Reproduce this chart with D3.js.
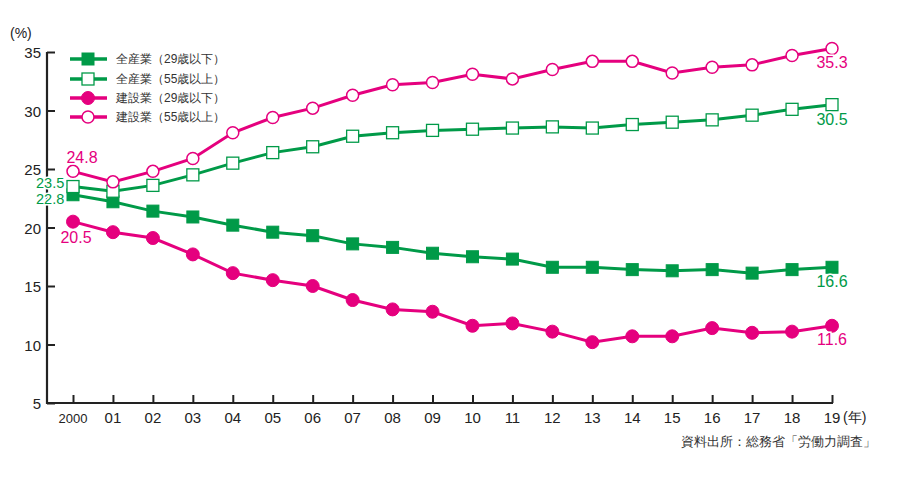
<!DOCTYPE html>
<html><head><meta charset="utf-8">
<script src="https://cdn.jsdelivr.net/npm/d3@7"></script>
<style>body{margin:0;background:#fff;} text{font-family:"Liberation Sans",Arial,sans-serif;}</style>
</head><body><svg id="c" width="900" height="480"></svg>
<script>
const years = ["2000","01","02","03","04","05","06","07","08","09","10","11","12","13","14","15","16","17","18","19"];
const yTicks = [5,10,15,20,25,30,35];
const allUnder29 = [22.8,22.2,21.4,20.9,20.2,19.6,19.3,18.6,18.3,17.8,17.5,17.3,16.6,16.6,16.4,16.3,16.4,16.1,16.4,16.6];
const allOver55  = [23.5,23.1,23.6,24.5,25.5,26.4,26.9,27.8,28.1,28.3,28.4,28.5,28.6,28.5,28.8,29.0,29.2,29.6,30.1,30.5];
const conUnder29 = [20.5,19.6,19.1,17.7,16.1,15.5,15.0,13.8,13.0,12.8,11.6,11.8,11.1,10.2,10.7,10.7,11.4,11.0,11.1,11.6];
const conOver55  = [24.8,23.9,24.8,25.9,28.1,29.4,30.2,31.3,32.2,32.4,33.1,32.7,33.5,34.2,34.2,33.2,33.7,33.9,34.7,35.3];
const seriesNames = ["全産業（29歳以下）","全産業（55歳以上）","建設業（29歳以下）","建設業（55歳以上）"];

const GREEN = "#009a48", PINK = "#e5007e";
const series = [
  {name: seriesNames[0], values: allUnder29, color: GREEN, shape: "square", filled: true},
  {name: seriesNames[1], values: allOver55,  color: GREEN, shape: "square", filled: false},
  {name: seriesNames[2], values: conUnder29, color: PINK,  shape: "circle", filled: true},
  {name: seriesNames[3], values: conOver55,  color: PINK,  shape: "circle", filled: false}
];

const svg = d3.select("#c");
const x = d3.scalePoint().domain(years).range([73, 832]);
const y = d3.scaleLinear().domain([5, 35]).range([403, 52]);

// axes
const yAxis = svg.append("g").attr("transform","translate(47,0)")
  .call(d3.axisRight(y).tickValues(yTicks).tickSize(8).tickFormat(""));
yAxis.select(".domain").remove();
yAxis.selectAll("line").attr("stroke","#222").attr("stroke-width",2);
svg.append("line").attr("x1",47).attr("x2",47).attr("y1",y(35)).attr("y2",y(5)+1).attr("stroke","#222").attr("stroke-width",2.2);
svg.selectAll(".ytl").data(yTicks).enter().append("text")
  .attr("x",41).attr("y",d=>y(d)+6).attr("text-anchor","end")
  .attr("font-size",15).attr("fill","#222").text(d=>d);

const xAxis = svg.append("g").attr("transform",`translate(0,${y(5)})`)
  .call(d3.axisTop(x).tickSize(8).tickFormat(""));
xAxis.select(".domain").remove();
xAxis.selectAll("line").attr("stroke","#222").attr("stroke-width",2);
svg.append("line").attr("x1",46).attr("x2",x("19")+1).attr("y1",y(5)).attr("y2",y(5)).attr("stroke","#222").attr("stroke-width",2.2);
svg.selectAll(".xtl").data(years).enter().append("text")
  .attr("x",d=>x(d)).attr("y",y(5)+20).attr("text-anchor","middle")
  .attr("font-size",d=>d==="2000"?13:15).attr("fill","#222").text(d=>d);
svg.append("text").attr("x",843).attr("y",y(5)+19).attr("font-size",14).attr("fill","#222")
  .attr("font-family","'Noto Sans CJK JP'").text("(年)");
svg.append("text").attr("x",10).attr("y",38).attr("font-size",14).attr("fill","#222").text("(%)");
svg.append("text").attr("x",876).attr("y",446).attr("text-anchor","end").attr("font-size",13)
  .attr("fill","#333").attr("font-family","'Noto Sans CJK JP'").text("資料出所：総務省「労働力調査」");

const line = d3.line().x((d,i)=>x(years[i])).y(d=>y(d));
function marker(g, shape, color, filled, cx, cy) {
  if (shape === "square") {
    g.append("rect").attr("x",cx-6).attr("y",cy-6).attr("width",12).attr("height",12)
      .attr("fill",filled?color:"#fff").attr("stroke",color).attr("stroke-width",filled?1:1.3);
  } else {
    g.append("circle").attr("cx",cx).attr("cy",cy).attr("r",filled?6.5:6)
      .attr("fill",filled?color:"#fff").attr("stroke",color).attr("stroke-width",filled?1:1.5);
  }
}
series.forEach(s => {
  svg.append("path").attr("d", line(s.values)).attr("fill","none")
    .attr("stroke", s.color).attr("stroke-width",3);
  const g = svg.append("g");
  s.values.forEach((v,i)=> marker(g, s.shape, s.color, s.filled, x(years[i]), y(v)));
});

// value labels
const lab = [
  {t: conOver55[0], x: 82, y: y(conOver55[0])-8, c: PINK, a:"middle", s:16},
  {t: allOver55[0], x: 36, y: 188, c: GREEN, a:"start", s:14.5},
  {t: allUnder29[0], x: 36, y: 204, c: GREEN, a:"start", s:14.5},
  {t: conUnder29[0], x: 76, y: y(conUnder29[0])+21, c: PINK, a:"middle", s:16},
  {t: conOver55[19], x: 832, y: y(conOver55[19])+20, c: PINK, a:"middle", s:16},
  {t: allOver55[19], x: 832, y: y(allOver55[19])+20, c: GREEN, a:"middle", s:16},
  {t: allUnder29[19], x: 832, y: y(allUnder29[19])+20, c: GREEN, a:"middle", s:16},
  {t: conUnder29[19], x: 832, y: y(conUnder29[19])+19, c: PINK, a:"middle", s:16}
];
svg.selectAll(".vl").data(lab).enter().append("text")
  .attr("x",d=>d.x).attr("y",d=>d.y).attr("text-anchor",d=>d.a)
  .attr("font-size",d=>d.s).attr("fill",d=>d.c)
  .attr("stroke","#fff").attr("stroke-width",3).attr("paint-order","stroke")
  .text(d=>d.t.toFixed(1));

// legend
const legY = [59, 79, 98, 117];
series.forEach((s,i)=>{
  const g = svg.append("g");
  g.append("line").attr("x1",70).attr("x2",107).attr("y1",legY[i]).attr("y2",legY[i])
    .attr("stroke",s.color).attr("stroke-width",3.5);
  marker(g, s.shape, s.color, s.filled, 88, legY[i]);
  g.append("text").attr("x",116).attr("y",legY[i]+4).attr("font-size",12).attr("fill","#333")
    .attr("font-family","'Noto Sans CJK JP'").text(s.name);
});
</script></body></html>
